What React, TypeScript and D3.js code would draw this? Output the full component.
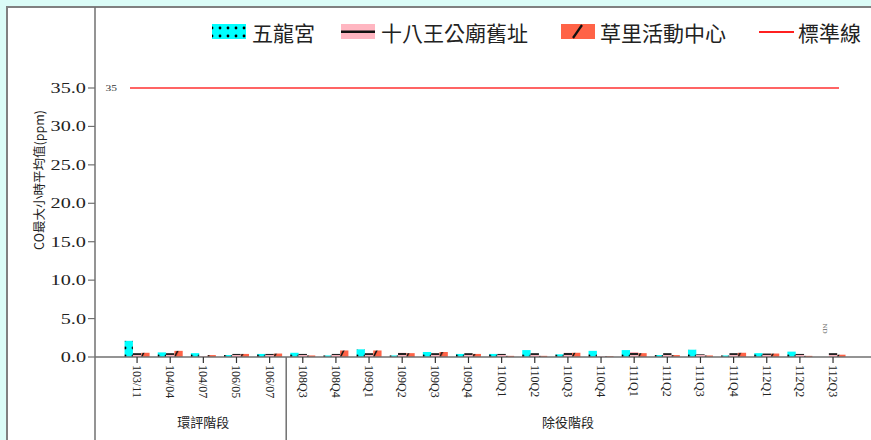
import React from "react";
import * as d3 from "d3";

const categories = ["103/11","104/04","104/07","106/05","106/07","108Q3","108Q4","109Q1","109Q2","109Q3","109Q4","110Q1","110Q2","110Q3","110Q4","111Q1","111Q2","111Q3","111Q4","112Q1","112Q2","112Q3"];
const wulong: (number | null)[] = [2.1,0.6,0.5,0.25,0.4,0.55,0.2,1.0,0.2,0.65,0.4,0.4,0.9,0.35,0.8,0.9,0.25,0.95,0.2,0.5,0.7,null];
const shibawang = [0.5,0.5,0.1,0.4,0.4,0.4,0.4,0.5,0.55,0.5,0.5,0.4,0.5,0.55,0.1,0.65,0.5,0.35,0.5,0.45,0.4,0.5];
const caoli = [0.55,0.8,0.25,0.4,0.45,0.2,0.85,0.85,0.5,0.65,0.4,0.15,0.15,0.55,0.1,0.5,0.25,0.2,0.55,0.45,0.15,0.3];
const seriesNames = ["五龍宮","十八王公廟舊址","草里活動中心"];
const standardName = "標準線";
const standardValue = 35;
const yTicks = [0,5,10,15,20,25,30,35];
const stageNames = ["環評階段","除役階段"];
const stageCounts = [5,17];
const yTitle = "CO最大小時平均值(ppm)";
const ndLabel = "ND";

export default function App() {
  const W = 871, H = 440;
  const x = d3.scaleBand<string>().domain(categories).range([120.5, 849.6]).padding(0);
  const y = d3.scaleLinear().domain([0, 35]).range([357, 88]);
  const inner = d3.scaleBand<number>().domain([0,1,2]).range([-12.5, 12.5]);
  const series = [wulong, shibawang, caoli];
  const fills = ["url(#pDots)","url(#pLine)","url(#pSlash)"];
  const serif = "'Liberation Serif','DejaVu Serif',serif";
  const cjk = "'Noto Sans CJK TC','Noto Sans CJK SC',sans-serif";
  const axisColor = "#707070";
  const bw = inner.bandwidth();

  let start = 0;
  const stages = stageNames.map((n, i) => {
    const cats = categories.slice(start, start + stageCounts[i]);
    start += stageCounts[i];
    const c0 = x(cats[0])! + x.bandwidth() / 2;
    const c1 = x(cats[cats.length - 1])! + x.bandwidth() / 2;
    return { name: n, center: (c0 + c1) / 2, left: x(cats[0])! };
  });

  const legendItems = [
    { name: seriesNames[0], kind: 0, x: 212, tx: 252 },
    { name: seriesNames[1], kind: 1, x: 341, tx: 381 },
    { name: seriesNames[2], kind: 2, x: 561, tx: 600 },
  ];

  return (
    <>
      <style>{"body{margin:0}"}</style>
      <svg width={W} height={H} style={{ display: "block" }}>
        <defs>
          <pattern id="pDots" patternUnits="userSpaceOnUse" width={8} height={8}>
            <rect width={8} height={8} fill="#00ffff" />
            <circle cx={4} cy={4} r={1.4} fill="#000" />
          </pattern>
          <pattern id="pLine" patternUnits="userSpaceOnUse" width={8} height={12}>
            <rect width={8} height={12} fill="#ffb6c1" />
            <rect y={5} width={8} height={2} fill="#222" />
          </pattern>
          <pattern id="pSlash" patternUnits="userSpaceOnUse" width={12} height={12}>
            <rect width={12} height={12} fill="#ff6347" />
            <line x1={3} y1={12} x2={9} y2={0} stroke="#111" strokeWidth={1.6} />
          </pattern>
        </defs>
        <rect x={0} y={0} width={W} height={H} fill="#dbfcf7" />
        <rect x={7} y={7} width={W + 20} height={H + 20} fill="#fff" stroke="#808080" strokeWidth={2} />

        {/* legend */}
        {legendItems.map((l) => (
          <g key={l.name}>
            {l.kind === 0 && <rect x={l.x} y={24} width={34} height={15} fill="url(#pDots)" />}
            {l.kind === 1 && (
              <g>
                <rect x={l.x} y={24} width={34} height={15} fill="#ffb6c1" />
                <rect x={l.x} y={30.5} width={34} height={2.5} fill="#111" />
              </g>
            )}
            {l.kind === 2 && (
              <g>
                <rect x={l.x} y={24} width={34} height={15} fill="#ff6347" />
                <line x1={l.x + 12} y1={38} x2={l.x + 21} y2={25} stroke="#111" strokeWidth={2.2} />
              </g>
            )}
            <text x={l.tx} y={32} dominantBaseline="central" fontFamily={cjk} fontSize={21} fill="#222">{l.name}</text>
          </g>
        ))}
        <line x1={759} x2={794} y1={32} y2={32} stroke="#ff2020" strokeWidth={2} />
        <text x={798} y={32} dominantBaseline="central" fontFamily={cjk} fontSize={21} fill="#222">{standardName}</text>

        {/* standard line */}
        <line x1={130} x2={839} y1={y(standardValue)} y2={y(standardValue)} stroke="#ff3030" strokeWidth={1.5} />
        <text transform={`translate(117,${y(standardValue)}) scale(1.35,1)`} dominantBaseline="central" textAnchor="end" fontFamily={serif} fontSize={8.5} fill="#333">{String(standardValue)}</text>

        {/* bars */}
        {categories.map((c, i) => (
          <g key={c} transform={`translate(${x(c)! + x.bandwidth() / 2},0)`}>
            {series.map((s, k) => {
              const v = s[i];
              if (v === null) {
                return (
                  <text key={k} transform={`translate(${inner(k)! + bw / 2},${y(3.7)}) rotate(90)`} textAnchor="middle" dominantBaseline="central" fontFamily={serif} fontSize={7} fill="#666">{ndLabel}</text>
                );
              }
              return <rect key={k} x={inner(k)!} width={bw} y={y(v)} height={y(0) - y(v)} fill={fills[k]} />;
            })}
          </g>
        ))}

        {/* y axis */}
        <line x1={95} x2={95} y1={7} y2={H} stroke={axisColor} strokeWidth={1.5} />
        {yTicks.map((t) => (
          <g key={t}>
            <line x1={88} x2={95} y1={y(t)} y2={y(t)} stroke={axisColor} strokeWidth={1.2} />
            <text transform={`translate(86,${y(t)}) scale(1.35,1)`} dominantBaseline="central" textAnchor="end" fontFamily={serif} fontSize={15} fill="#222">{d3.format(".1f")(t)}</text>
          </g>
        ))}
        <text transform={`translate(38,${180}) rotate(-90)`} textAnchor="middle" dominantBaseline="central" fontFamily={cjk} fontSize={12.5} fill="#222">{yTitle}</text>

        {/* x axis */}
        <line x1={95} x2={W} y1={y(0)} y2={y(0)} stroke={axisColor} strokeWidth={1.5} />
        {categories.map((c) => {
          const cx = x(c)! + x.bandwidth() / 2;
          return (
            <g key={c}>
              <line x1={cx} x2={cx} y1={y(0)} y2={y(0) + 6} stroke="#333" strokeWidth={1.2} />
              <text transform={`translate(${cx},${y(0) + 8}) rotate(90)`} dominantBaseline="central" fontFamily={serif} fontSize={12} fill="#222">{c}</text>
            </g>
          );
        })}
        {stages.slice(1).map((s) => (
          <line key={s.name} x1={s.left} x2={s.left} y1={y(0)} y2={H} stroke={axisColor} strokeWidth={1.5} />
        ))}
        {stages.map((s) => (
          <text key={s.name} x={s.center} y={421} textAnchor="middle" dominantBaseline="central" fontFamily={cjk} fontSize={13} fill="#222">{s.name}</text>
        ))}
      </svg>
    </>
  );
}
